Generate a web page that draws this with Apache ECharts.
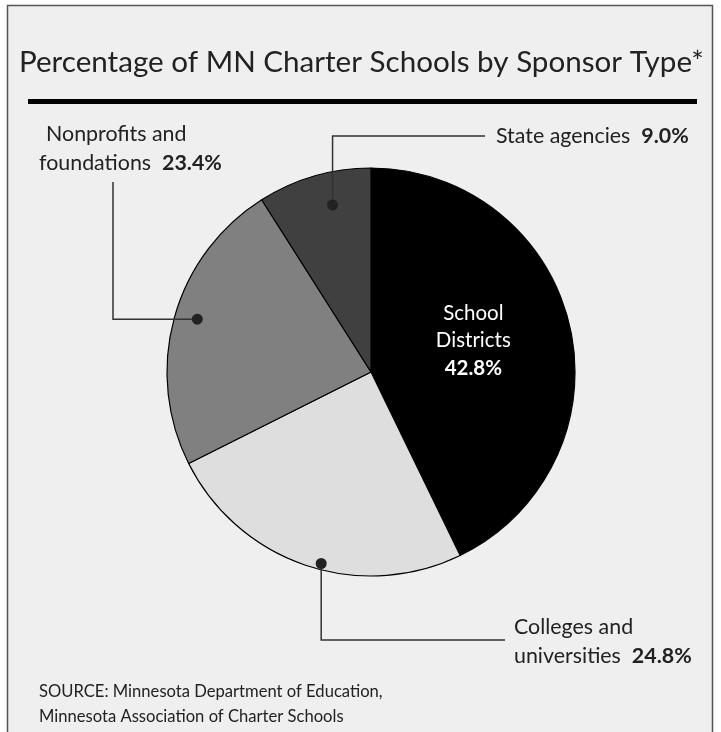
<!DOCTYPE html>
<html><head><meta charset="utf-8">
<script src="https://cdn.jsdelivr.net/npm/echarts@6/dist/echarts.min.js"></script>
<style>html,body{margin:0;padding:0;background:#fff}#c{width:721px;height:732px}</style>
</head><body><div id="c"></div>
<script>
// ---- data ----
const categories = ['School Districts', 'Colleges and universities', 'Nonprofits and foundations', 'State agencies'];
const values = [42.8, 24.8, 23.4, 9.0];
const labelLines = [['School', 'Districts'], ['Colleges and', 'universities'], ['Nonprofits and', 'foundations'], ['State agencies']];
const titleText = 'Percentage of MN Charter Schools by Sponsor Type*';
const sourceLines = ['SOURCE: Minnesota Department of Education,', 'Minnesota Association of Charter Schools'];

// ---- styles / layout ----
const colors = ['#000000', '#dedede', '#808080', '#404040'];
const CX = 371, CY = 372, R = 204;
const FONT = 'Lato';
const TXT = '#222';

const labelPos = {
  0: {dy: -8},
  1: {x: 514, y: 613, align: 'left', verticalAlign: 'top'},
  2: {x: 39, y: 120, align: 'left', verticalAlign: 'top'},
  3: {x: 496, y: 136, align: 'left', verticalAlign: 'middle'}
};
const firstLineIndent = {2: 7};
const leaders = {
  1: {anchor: [0.97, -1.15], path: p => [p, [p[0], 640], [505, 640]]},
  2: {anchor: [0.89, 0.4], path: p => [p, [113, p[1]], [113, 182]]},
  3: {anchor: [0.84, 0.9], path: p => [p, [p[0], 136], [485, 136]]}
};

const total = values.reduce((a, b) => a + b, 0);
const mids = [];
let acc = 0;
values.forEach(v => { mids.push((acc + v / 2) / total * 100); acc += v; });

const rich = {
  n: {fontFamily: FONT, fontSize: 21.4, color: TXT, lineHeight: 29},
  ni: {fontFamily: FONT, fontSize: 21.4, color: TXT, lineHeight: 29, padding: [0, 0, 0, 7]},
  b: {fontFamily: FONT, fontSize: 21.4, color: TXT, fontWeight: 'bold', lineHeight: 29},
  w: {fontFamily: FONT, fontSize: 20.5, color: '#fff', lineHeight: 27.5, align: 'center'},
  wb: {fontFamily: FONT, fontSize: 20.5, color: '#fff', fontWeight: 'bold', lineHeight: 27.5, align: 'center'}
};

function fmt(i) {
  const pct = values[i].toFixed(1) + '%';
  const lines = labelLines[i];
  if (i === 0) return lines.map(l => '{w|' + l + '}').join('\n') + '\n{wb|' + pct + '}';
  const head = lines.slice(0, -1).map((l, k) => '{' + (k === 0 && firstLineIndent[i] ? 'ni' : 'n') + '|' + l + '}');
  head.push('{n|' + lines[lines.length - 1] + '  }{b|' + pct + '}');
  return head.join('\n');
}

const pieData = values.map((v, i) => ({
  value: v, name: categories[i],
  itemStyle: {color: colors[i]},
  label: {position: i === 0 ? 'inside' : 'outside', formatter: fmt(i), rich: rich, overflow: 'none'}
}));

const leaderData = [1, 2, 3].map(i => [leaders[i].anchor[0], mids[i] + leaders[i].anchor[1], i]);

const chart = echarts.init(document.getElementById('c'), null, {renderer: 'canvas'});
chart.setOption({
  animation: false,
  backgroundColor: '#ffffff',
  title: [
    {text: titleText, left: 14, top: 42, textStyle: {fontFamily: FONT, fontSize: 29.6, fontWeight: 'normal', color: TXT}},
    {text: sourceLines.join('\n'), left: 34, top: 674, textStyle: {fontFamily: FONT, fontSize: 16.6, fontWeight: 'normal', color: TXT, lineHeight: 25}}
  ],
  graphic: [
    {type: 'rect', z: -10, silent: true, shape: {x: 7.5, y: 5.5, width: 705, height: 760},
     style: {fill: '#efefef', stroke: '#555', lineWidth: 1.5}},
    {type: 'rect', z: -5, silent: true, shape: {x: 28, y: 99, width: 669, height: 5}, style: {fill: '#000'}}
  ],
  polar: {center: [CX, CY], radius: [0, R]},
  angleAxis: {type: 'value', min: 0, max: 100, startAngle: 90, clockwise: true, show: false},
  radiusAxis: {type: 'value', min: 0, max: 1, show: false},
  series: [
    {
      type: 'pie', center: [CX, CY], radius: [0, R], startAngle: 90, clockwise: true,
      silent: true,
      itemStyle: {borderColor: '#000', borderWidth: 1.2},
      labelLine: {show: false},
      data: pieData,
      labelLayout: function (params) {
        const p = labelPos[params.dataIndex];
        return p || {};
      },
      z: 2
    },
    {
      type: 'custom', coordinateSystem: 'polar', silent: true, z: 5,
      data: leaderData,
      renderItem: function (params, api) {
        const idx = api.value(2);
        const p = api.coord([api.value(0), api.value(1)]);
        const pts = leaders[idx].path(p);
        return {
          type: 'group',
          children: [
            {type: 'polyline', shape: {points: pts}, style: {stroke: '#333', lineWidth: 1.5, fill: null}},
            {type: 'circle', shape: {cx: p[0], cy: p[1], r: 5.5}, style: {fill: '#222'}}
          ]
        };
      }
    }
  ]
});
</script>
</body></html>
